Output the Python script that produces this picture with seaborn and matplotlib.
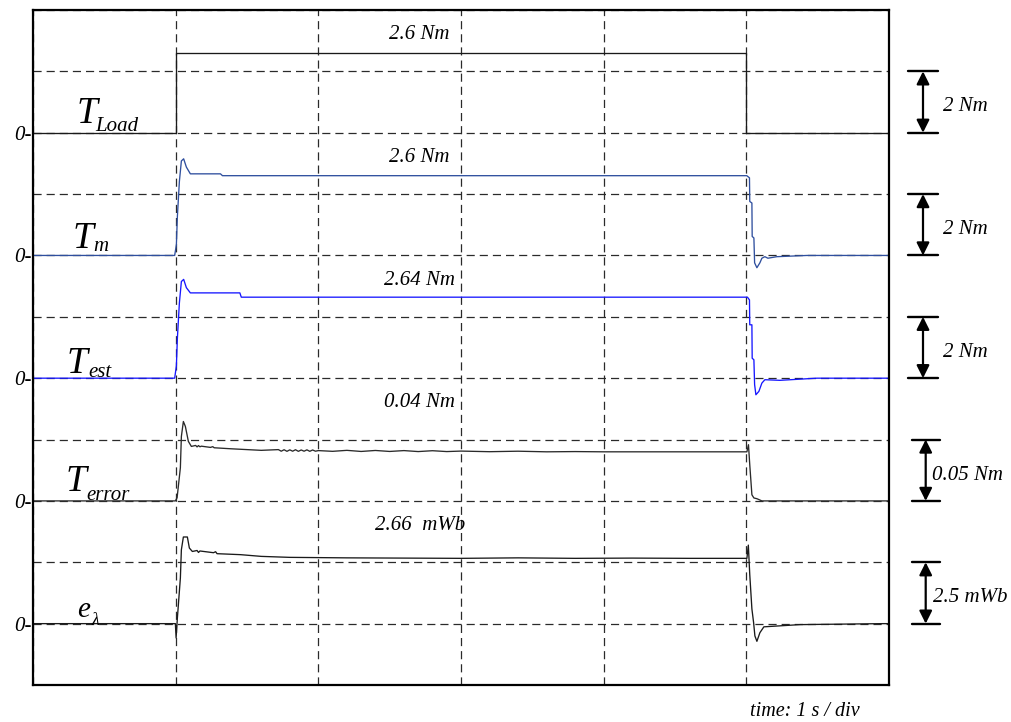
import numpy as np
import pandas as pd
import matplotlib
matplotlib.use("Agg")
import matplotlib.pyplot as plt
import seaborn as sns
from matplotlib.transforms import blended_transform_factory

# ---------------- data (time in s, values in physical units) ----------------
t_load = [0.0, 1.0, 1.0, 5.0, 5.0, 6.0]
v_load = [0.0, 0.0, 2.6, 2.6, 0.0, 0.0]

t_m = [0.0, 0.993, 1.005, 1.012, 1.026, 1.040, 1.056, 1.075, 1.103, 1.314, 1.328,
       5.003, 5.022, 5.024, 5.039, 5.041, 5.053, 5.058, 5.074, 5.095, 5.109,
       5.130, 5.151, 5.214, 5.425, 6.0]
v_m = [0.0, 0.0, 0.35, 1.27, 2.41, 3.08, 3.15, 2.88, 2.66, 2.66, 2.60,
       2.60, 2.53, 1.76, 1.71, 0.62, 0.57, -0.24, -0.40, -0.24, -0.09,
       -0.04, -0.09, -0.04, 0.0, 0.0]

t_est = [0.0, 0.993, 1.005, 1.012, 1.026, 1.040, 1.056, 1.075, 1.103, 1.45, 1.46,
         5.008, 5.022, 5.024, 5.039, 5.041, 5.053, 5.058, 5.067, 5.088, 5.109,
         5.130, 5.235, 5.495, 6.0]
v_est = [0.0, 0.0, 0.40, 1.30, 2.45, 3.15, 3.22, 2.95, 2.78, 2.78, 2.64,
         2.64, 2.55, 1.74, 1.74, 0.65, 0.60, -0.21, -0.54, -0.43, -0.16,
         -0.05, -0.07, 0.0, 0.0]

t_err = [0.0, 0.998, 1.010, 1.033, 1.040, 1.054, 1.068, 1.089, 1.110,
         1.14, 1.15, 1.16, 1.17, 1.18, 1.244, 1.26, 1.27, 1.384, 1.60,
         1.72, 1.74, 1.76, 1.78, 1.80, 1.82, 1.84, 1.86, 1.88, 1.90, 1.92, 1.94,
         1.96, 1.98, 2.00, 2.10, 2.20, 2.30, 2.40, 2.50, 2.60, 2.70, 2.80, 2.90,
         3.00, 3.20, 3.40, 3.60, 3.80, 4.00, 4.50, 5.004, 5.015, 5.024, 5.039,
         5.053, 5.074, 5.109, 6.0]
v_err = [0.0, 0.0, 0.0026, 0.027, 0.0525, 0.0647, 0.0607, 0.0485, 0.0444,
         0.0452, 0.0440, 0.0451, 0.0441, 0.0446, 0.0436, 0.0442, 0.0433, 0.0425, 0.0412,
         0.0418, 0.0405, 0.0417, 0.0404, 0.0416, 0.0405, 0.0417, 0.0404, 0.0415, 0.0405,
         0.0416, 0.0404, 0.0415, 0.0405, 0.0410, 0.0404, 0.0412, 0.0403, 0.0411, 0.0403,
         0.0410, 0.0402, 0.0409, 0.0402, 0.0406, 0.0401, 0.0405, 0.0400, 0.0402, 0.0400,
         0.0400, 0.0400, 0.0458, 0.0295, 0.0050, 0.0024, 0.0018, 0.0, 0.0]

t_elam = [0.0, 0.998, 1.003, 1.012, 1.033, 1.040, 1.054, 1.082, 1.096, 1.117,
          1.15, 1.16, 1.17, 1.265, 1.28, 1.29, 1.455, 1.60, 1.80, 2.20, 2.60,
          3.00, 3.40, 3.80, 4.20, 4.60, 5.004, 5.014, 5.024, 5.039, 5.051,
          5.060, 5.074, 5.095, 5.123, 5.179, 5.376, 5.952, 6.0]
v_elam = [0.0, 0.0, -0.58, 0.23, 1.86, 3.01, 3.53, 3.53, 3.08, 2.94,
          2.98, 2.90, 2.96, 2.89, 2.93, 2.85, 2.81, 2.74, 2.70, 2.68, 2.67,
          2.66, 2.68, 2.66, 2.67, 2.66, 2.66, 3.20, 2.00, 0.60, 0.04,
          -0.50, -0.72, -0.37, -0.13, -0.11, -0.04, 0.0, 0.0]

# channel layout: (time, values, units per division, zero level in divisions, colour)
channels = [
    (t_load, v_load, 2.0, 9, "#1a1a1a"),
    (t_m, v_m, 2.0, 7, "#2f4f9e"),
    (t_est, v_est, 2.0, 5, "#1717ff"),
    (t_err, v_err, 0.05, 3, "#2a2a2a"),
    (t_elam, v_elam, 2.5, 1, "#1a1a1a"),
]

value_labels = ["2.6 Nm", "2.6 Nm", "2.64 Nm", "0.04 Nm", "2.66  mWb"]
scale_labels = ["2 Nm", "2 Nm", "2 Nm", "0.05 Nm", "2.5 mWb"]

# ---------------- figure ----------------
W, H = 1011, 722
sns.set_theme(style="white")
plt.rcParams["font.family"] = ["Liberation Serif", "DejaVu Serif"]
plt.rcParams["text.color"] = "black"
plt.rcParams["xtick.color"] = "black"
plt.rcParams["ytick.color"] = "black"
plt.rcParams["axes.labelcolor"] = "black"

fig = plt.figure(figsize=(W / 100, H / 100), dpi=100)
ax = fig.add_axes([33 / W, 1 - 685 / H, (889 - 33) / W, (685 - 10) / H])

def px(x, y):
    return x / W, 1 - y / H

ax.set_xlim(0, 6)
ax.set_ylim(0, 11)
ax.set_xticks(range(0, 7))
ax.set_yticks(range(0, 12))
ax.set_xticklabels([])
ax.set_yticklabels(["0-" if k in (1, 3, 5, 7, 9) else "" for k in range(12)],
                   fontstyle="italic", fontsize=15)
ax.tick_params(axis="both", length=0, pad=1)
ax.grid(True, linestyle=(0, (6.5, 4)), color="#2a2a2a", linewidth=0.9)
ax.set_axisbelow(True)
for s in ax.spines.values():
    s.set_color("black")
    s.set_linewidth(1.6)
    s.set_visible(True)

for (t, v, scale, zero, col) in channels:
    df = pd.DataFrame({"t": t, "y": zero + np.asarray(v) / scale})
    sns.lineplot(data=df, x="t", y="y", sort=False, estimator=None,
                 color=col, linewidth=0.95, ax=ax, legend=False)
ax.set_xlabel("")
ax.set_ylabel("")

# value annotations above each trace
for (t, v, scale, zero, col), lab in zip(channels, value_labels):
    ax.text(2.71, zero + 1.6, lab, ha="center", va="center",
            fontstyle="italic", fontsize=15)

# channel names (large symbol + small subscript)
names = [
    ("T", "Load", (77, 123), (95, 131), 27, 15),
    ("T", "m", (73, 248), (93, 251), 27, 15),
    ("T", "est", (67, 373), (88, 377), 27, 15),
    ("T", "error", (66, 491), (86, 500), 27, 15),
    ("e", "\u03bb", (77, 617), (91, 625), 21, 13),
]
for big, sub, pb, ps, fb, fs in names:
    fig.text(*px(*pb), big, fontsize=fb, fontstyle="italic", va="baseline", ha="left")
    fig.text(*px(*ps), sub, fontsize=fs, fontstyle="italic", va="baseline", ha="left")

# scale markers on the right
tr = blended_transform_factory(fig.transFigure, ax.transData)
marker_x = [(908, 938, 923, 943), (908, 938, 923, 943), (908, 938, 923, 943),
            (912, 940, 925.7, 931.7), (912, 940, 925.7, 933)]
for (t, v, scale, zero, col), lab, (x0, x1, xa, xt) in zip(channels, scale_labels, marker_x):
    for yy in (zero, zero + 1):
        ax.plot([x0 / W, x1 / W], [yy, yy], color="black", lw=1.7,
                transform=tr, clip_on=False)
    ax.annotate("", xy=(xa / W, zero), xytext=(xa / W, zero + 1),
                xycoords=tr, textcoords=tr,
                arrowprops=dict(arrowstyle="<|-|>", color="black", lw=1.6,
                                mutation_scale=19, shrinkA=0, shrinkB=0),
                annotation_clip=False)
    ax.text(xt / W, zero + 0.42, lab, transform=tr, ha="left", va="center",
            fontstyle="italic", fontsize=15, clip_on=False)

fig.text(*px(805, 716), "time: 1 s / div", ha="center", va="baseline",
         fontstyle="italic", fontsize=14.5)

fig.savefig("out.png", dpi=100, facecolor="white")
